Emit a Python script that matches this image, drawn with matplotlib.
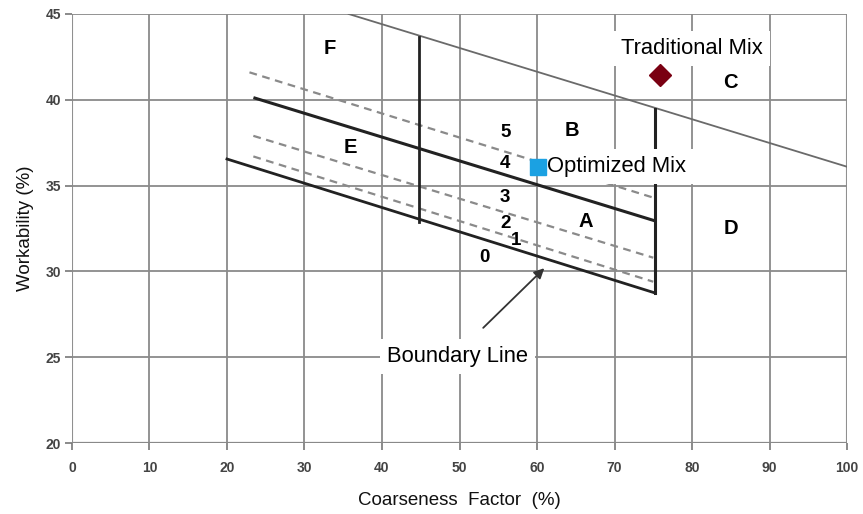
import matplotlib
matplotlib.use("Agg")
import matplotlib.pyplot as plt

plt.rcParams['font.family'] = ['Liberation Sans', 'DejaVu Sans']

# Boundary lines (x0, y0, x1, y1)
upper_limit = ([35.7, 100.0], [45.0, 36.1])
boundary_line = ([20.0, 75.2], [36.55, 28.75])
thick_mid = ([23.6, 75.2], [40.1, 32.95])
dashed_lines = [([22.9, 75.0], [41.6, 34.3]),
                ([23.4, 75.0], [37.9, 30.8]),
                ([23.4, 75.0], [36.7, 29.4])]
vert_45 = ([44.8, 44.8], [43.66, 32.9])
vert_75 = ([75.2, 75.2], [39.45, 28.75])

region_labels = ["F", "E", "B", "A", "C", "D"]
region_x = [33.3, 35.9, 64.5, 66.3, 85.0, 85.0]
region_y = [43.0, 37.2, 38.2, 32.9, 41.0, 32.5]

num_labels = ["5", "4", "3", "2", "1", "0"]
num_x = [55.9, 55.9, 55.9, 55.9, 57.3, 53.2]
num_y = [38.1, 36.3, 34.3, 32.8, 31.8, 30.8]

trad_mix = (75.9, 41.45)
opt_mix = (60.1, 36.1)

xticks = [0, 10, 20, 30, 40, 50, 60, 70, 80, 90, 100]
yticks = [20, 25, 30, 35, 40, 45]

fig = plt.figure(figsize=(8.63, 5.14), dpi=100)
ax = fig.add_axes([0.0834, 0.138, 0.9815 - 0.0834, 0.9728 - 0.138])
ax.set_xlim(0, 100)
ax.set_ylim(20, 45)
ax.set_xticks(xticks)
ax.set_yticks(yticks)
ax.tick_params(axis='both', length=5, width=1.2, color='#777777',
               labelsize=10, labelcolor='#444444')
ax.tick_params(axis='x', pad=8)
ax.tick_params(axis='y', pad=3)
for lab in ax.get_xticklabels() + ax.get_yticklabels():
    lab.set_fontweight('bold')
ax.grid(True, color='#8a8a8a', linewidth=1.3, zorder=0)
for s in ax.spines.values():
    s.set_visible(False)
ax.axvline(0, color='#cccccc', linewidth=1.6, zorder=0)
ax.axvline(100, color='#cccccc', linewidth=1.6, zorder=0)
ax.axhline(20, color='#888888', linewidth=1.6, zorder=0)

ax.set_xlabel("Coarseness  Factor  (%)", fontsize=13.5, labelpad=12, color='#111111')
ax.set_ylabel("Workability (%)", fontsize=13.5, labelpad=8, color='#111111')

ax.plot(*upper_limit, color='#6a6a6a', linewidth=1.3, zorder=2)
ax.plot(*boundary_line, color='#222222', linewidth=2.0, zorder=2)
ax.plot(*thick_mid, color='#222222', linewidth=2.2, zorder=2)
for dl in dashed_lines:
    ax.plot(*dl, color='#8a8a8a', linewidth=1.6, linestyle=(0, (3.5, 2.5)), zorder=2)
ax.plot(*vert_45, color='#222222', linewidth=2.0, zorder=2)
ax.plot(*vert_75, color='#222222', linewidth=2.2, zorder=2)

for t, x, y in zip(region_labels, region_x, region_y):
    ax.text(x, y, t, fontsize=14.5, fontweight='bold', ha='center', va='center', zorder=5)
for t, x, y in zip(num_labels, num_x, num_y):
    ax.text(x, y, t, fontsize=13.5, fontweight='bold', ha='center', va='center', zorder=5)

ax.text(80.0, 43.0, "Traditional Mix", fontsize=15.8, ha='center', va='center', zorder=4,
        bbox=dict(facecolor='white', edgecolor='none', pad=5))
ax.plot(*trad_mix, marker='D', markersize=11.5, color='#7a0012', zorder=6)

ax.text(61.3, 36.1, "Optimized Mix", fontsize=15.8, ha='left', va='center', zorder=4,
        bbox=dict(facecolor='white', edgecolor='none', pad=5))
ax.plot(*opt_mix, marker='s', markersize=11.5, color='#1ba1e2', zorder=6)

ax.annotate("", xy=(61.2, 30.3), xytext=(52.8, 26.6),
            arrowprops=dict(arrowstyle='-|>', color='#333333', lw=1.3,
                            mutation_scale=15), zorder=5)
ax.text(49.7, 25.05, "Boundary Line", fontsize=15.8, ha='center', va='center', zorder=4,
        bbox=dict(facecolor='white', edgecolor='none', pad=5))

fig.savefig("out.png", dpi=100)
